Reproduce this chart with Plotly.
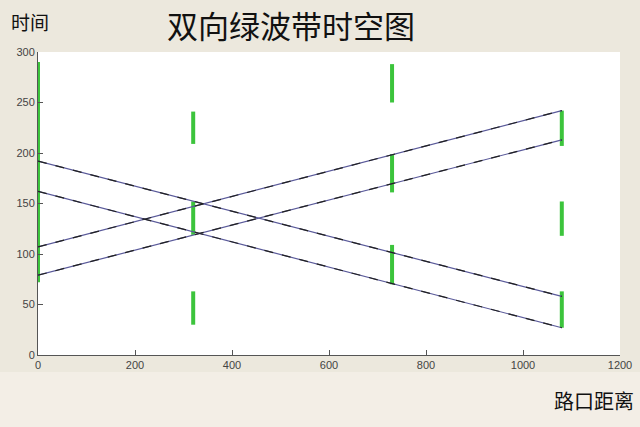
import plotly.graph_objects as go

# intersections (distance, m) and green phases (start, end time, s)
intersections = [0, 320, 730, 1080]
green_start = [[72], [209, 119, 30], [250, 161, 70], [207, 118, 27]]
green_end = [[290], [241, 152, 63], [288, 199, 109], [242, 152, 63]]

# green wave band edges, from first to last intersection
band_x = [0, 1080]
east_lower = [79, 213]
east_upper = [107, 242]
west_upper = [192, 58]
west_lower = [162, 27]

x_ticks = [0, 200, 400, 600, 800, 1000, 1200]
y_ticks = [0, 50, 100, 150, 200, 250, 300]

fig = go.Figure()

# green signal bars
gx, gy = [], []
for pos, starts, ends in zip(intersections, green_start, green_end):
    for s, e in zip(starts, ends):
        gx += [pos, pos, None]
        gy += [s, e, None]
fig.add_trace(go.Scatter(x=gx, y=gy, mode='lines',
                         line=dict(color='#3cc43c', width=4), hoverinfo='skip'))

# band lines: blue solid with black dashes on top, like the matlab look
for edge in [east_lower, east_upper, west_upper, west_lower]:
    fig.add_trace(go.Scatter(x=band_x, y=edge, mode='lines',
                             line=dict(color='#5a5a9a', width=1.2), hoverinfo='skip'))
    fig.add_trace(go.Scatter(x=band_x, y=edge, mode='lines',
                             line=dict(color='#222222', width=1.2, dash='dash'),
                             hoverinfo='skip'))

axis_style = dict(showgrid=False, zeroline=False, showline=True, linecolor='#555555',
                  linewidth=1, ticks='inside', ticklen=5, tickcolor='#555555',
                  tickfont=dict(family='Liberation Sans, Arial', size=11, color='#444444'),
                  mirror=False, automargin=False)

fig.update_xaxes(range=[0, 1200], tickvals=x_ticks, **axis_style)
fig.update_yaxes(range=[0, 300], tickvals=y_ticks, **axis_style)

fig.update_layout(
    width=640, height=427,
    margin=dict(l=38, r=20, t=52, b=72, autoexpand=False),
    paper_bgcolor='#ece8dd',
    plot_bgcolor='#ffffff',
    showlegend=False,
    shapes=[dict(type='rect', xref='paper', yref='paper', x0=-0.1, x1=1.1,
                 y0=-0.25, y1=-0.056, fillcolor='#f3eee6', line=dict(width=0),
                 layer='below')],
    annotations=[
        dict(text='双向绿波带时空图', xref='paper', yref='paper', x=0.435, y=1.0,
             yshift=28, xanchor='center', yanchor='middle', showarrow=False,
             font=dict(family='Noto Sans CJK SC', size=31, color='#111111')),
        dict(text='时间', xref='paper', yref='paper', x=-0.05, y=1.0, yshift=31,
             xanchor='left', yanchor='middle', showarrow=False,
             font=dict(family='Noto Sans CJK SC', size=19, color='#111111')),
        dict(text='路口距离', xref='paper', yref='paper', x=1.028, y=0.0, yshift=-45,
             xanchor='right', yanchor='middle', showarrow=False,
             font=dict(family='Noto Sans CJK SC', size=20, color='#111111')),
    ],
)

# drop the browser's default page margin so the figure sits at the window corner
fig.write_html("out.html", config={'displayModeBar': False},
               post_script="document.body.style.margin='0';")
